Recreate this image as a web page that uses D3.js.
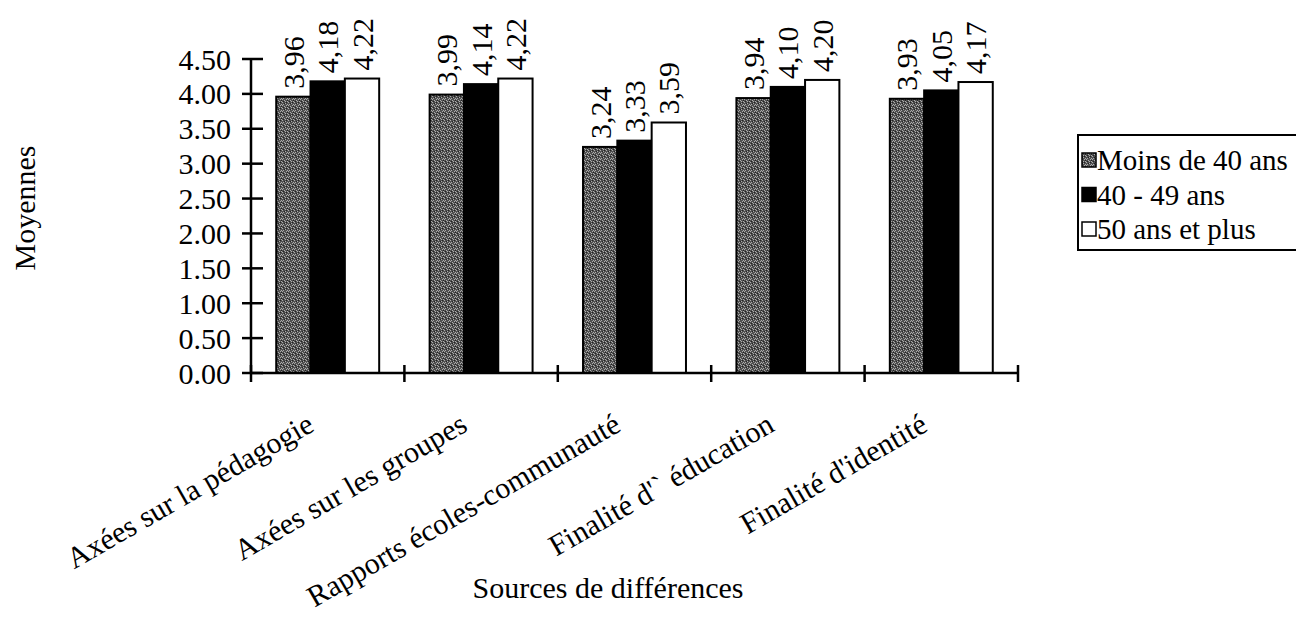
<!DOCTYPE html>
<html><head><meta charset="utf-8">
<script src="https://cdn.jsdelivr.net/npm/d3@7"></script>
<style>
html,body{margin:0;padding:0;background:#fff;}
svg text{font-family:"Liberation Serif","Times New Roman",Times,serif;fill:#000;}
</style></head>
<body>
<svg id="chart" width="1296" height="619" font-family="Liberation Serif, serif"></svg>
<script>
const categories = ["Axées sur la pédagogie","Axées sur les groupes","Rapports écoles-communauté","Finalité d'` éducation","Finalité d'identité"];
const seriesNames = ["Moins de 40 ans","40 - 49 ans","50 ans et plus"];
const moins40 = [3.96,3.99,3.24,3.94,3.93];
const de40a49 = [4.18,4.14,3.33,4.10,4.05];
const plus50 = [4.22,4.22,3.59,4.20,4.17];
const yTicks = [0,0.5,1,1.5,2,2.5,3,3.5,4,4.5];
const yTitle = "Moyennes";
const xTitle = "Sources de différences";

const seriesValues = [moins40, de40a49, plus50];
const fills = ["url(#grain)", "#000", "#fff"];

const svg = d3.select("#chart");
const defs = svg.append("defs");
const pat = defs.append("pattern").attr("id","grain").attr("patternUnits","userSpaceOnUse")
  .attr("width",6).attr("height",6);
pat.append("rect").attr("width",6).attr("height",6).attr("fill","#505050");
[[0,0],[3,1],[1,2],[4,3],[2,4],[5,5],[0,3],[3,5],[5,2]].forEach(([a,b])=>{
  pat.append("rect").attr("x",a).attr("y",b).attr("width",1).attr("height",1).attr("fill","#acacac");
});
[[2,1],[4,0],[1,5],[5,4]].forEach(([a,b])=>{
  pat.append("rect").attr("x",a).attr("y",b).attr("width",1).attr("height",1).attr("fill","#222");
});

const fs = 30;
const x0 = d3.scaleBand().domain(categories).range([251,1018]).padding(0);
const x1 = d3.scaleBand().domain(seriesNames).range([0,x0.bandwidth()]).paddingInner(0).paddingOuter(0.735);
const y = d3.scaleLinear().domain([0,4.5]).range([373,59]);

// bars
categories.forEach((c,i)=>{
  seriesNames.forEach((s,j)=>{
    const v = seriesValues[j][i];
    const bx = x0(c)+x1(s);
    svg.append("rect").attr("x",bx).attr("y",y(v)).attr("width",x1.bandwidth()).attr("height",y(0)-y(v))
      .attr("fill",fills[j]).attr("stroke","#000").attr("stroke-width",2);
    svg.append("text")
      .attr("transform",`translate(${bx+x1.bandwidth()/2},${y(v)-8}) rotate(-90)`)
      .attr("dy","0.35em").attr("text-anchor","start").attr("font-size",fs)
      .text(v.toFixed(2).replace(".",","));
  });
});

// y axis
const yAxis = svg.append("g").attr("transform","translate(251,0)");
yAxis.append("line").attr("x1",0).attr("x2",0).attr("y1",y(4.5)).attr("y2",y(0)).attr("stroke","#000").attr("stroke-width",2.5);
yTicks.forEach(t=>{
  yAxis.append("line").attr("x1",-9).attr("x2",12).attr("y1",y(t)).attr("y2",y(t)).attr("stroke","#000").attr("stroke-width",2.5);
  yAxis.append("text").attr("x",-20).attr("y",y(t)).attr("dy","0.35em").attr("text-anchor","end").attr("font-size",fs).text(t.toFixed(2));
});

// x axis
const xAxis = svg.append("g");
xAxis.append("line").attr("x1",251).attr("x2",1018).attr("y1",y(0)).attr("y2",y(0)).attr("stroke","#000").attr("stroke-width",2.5);
const bounds = categories.map(c=>x0(c)).concat([x0.range()[1]]);
bounds.forEach(b=>{
  xAxis.append("line").attr("x1",b).attr("x2",b).attr("y1",y(0)-8).attr("y2",y(0)+9).attr("stroke","#000").attr("stroke-width",2.5);
});
categories.forEach(c=>{
  const cx = x0(c)+x0.bandwidth()/2;
  xAxis.append("text").attr("transform",`translate(${cx-12},430) rotate(-30)`)
    .attr("text-anchor","end").attr("font-size",fs).text(c);
});

// titles
svg.append("text").attr("transform","translate(24,208) rotate(-90)").attr("dy","0.35em")
  .attr("text-anchor","middle").attr("font-size",fs).text(yTitle);
svg.append("text").attr("x",608).attr("y",598).attr("text-anchor","middle").attr("font-size",fs).text(xTitle);

// legend
const lg = svg.append("g");
lg.append("rect").attr("x",1078).attr("y",135).attr("width",240).attr("height",115).attr("fill","#fff").attr("stroke","#000").attr("stroke-width",2);
seriesNames.forEach((s,j)=>{
  const cy = 160 + j*34.5;
  lg.append("rect").attr("x",1082).attr("y",cy-7).attr("width",14).attr("height",14).attr("fill",fills[j]).attr("stroke","#000").attr("stroke-width",1.5);
  lg.append("text").attr("x",1097).attr("y",cy).attr("dy","0.35em").attr("font-size",29).text(s);
});
</script>
</body></html>
